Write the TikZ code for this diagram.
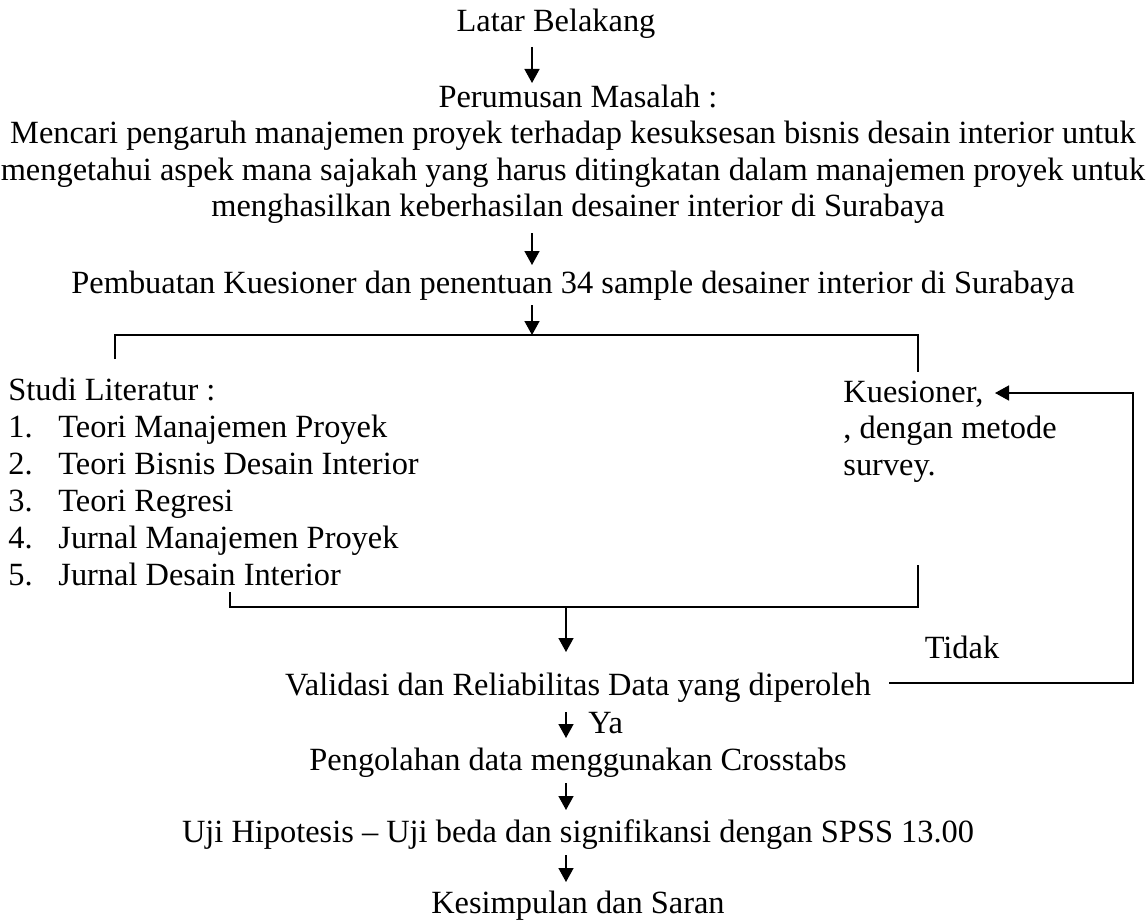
\documentclass[tikz,border=0pt]{standalone}
\usepackage{fontspec}
\setmainfont{Liberation Serif}
\usetikzlibrary{arrows.meta}
\tikzset{
  t/.style={inner sep=0pt, anchor=base, font=\fontsize{16.2}{18}\selectfont},
  tw/.style={t, anchor=base west},
  ln/.style={line width=0.75pt},
  arr/.style={line width=0.75pt, -{Triangle[length=7pt,width=7.5pt]}},
}
\begin{document}
\begin{tikzpicture}[x=0.5pt,y=-0.5pt]
\useasboundingbox (0,0) rectangle (1146,920);
% main column
\node[t] (latar) at (556,32) {Latar Belakang};
\node[t] (p0) at (578,108) {Perumusan Masalah :};
\node[t] (p1) at (573,144) {Mencari pengaruh manajemen proyek terhadap kesuksesan bisnis desain interior untuk};
\node[t] (p2) at (573,180) {mengetahui aspek mana sajakah yang harus ditingkatan dalam manajemen proyek untuk};
\node[t] (p3) at (578,216) {menghasilkan keberhasilan desainer interior di Surabaya};
\node[t] (buat) at (573,293) {Pembuatan Kuesioner dan penentuan 34 sample desainer interior di Surabaya};
% left list
\node[tw] (studi) at (8,400) {Studi Literatur :};
\node[tw] (n1) at (8,437) {1.};
\node[tw] (n2) at (8,474) {2.};
\node[tw] (n3) at (8,511) {3.};
\node[tw] (n4) at (8,548) {4.};
\node[tw] (n5) at (8,585) {5.};
\node[tw] (s1) at (58,437) {Teori Manajemen Proyek};
\node[tw] (s2) at (58,474) {Teori Bisnis Desain Interior};
\node[tw] (s3) at (58,511) {Teori Regresi};
\node[tw] (s4) at (58,548) {Jurnal Manajemen Proyek};
\node[tw] (s5) at (58,585) {Jurnal Desain Interior};
% right column
\node[tw] (k1) at (843,402) {Kuesioner,};
\node[tw] (k2) at (843,438) {, dengan metode};
\node[tw] (k3) at (843,475) {survey.};
% lower column
\node[t] (valid) at (578,695) {Validasi dan Reliabilitas Data yang diperoleh};
\node[t] (tidak) at (962,658) {Tidak};
\node[tw] (ya) at (588,733) {Ya};
\node[t] (olah) at (578,770) {Pengolahan data menggunakan Crosstabs};
\node[t] (uji) at (578,842) {Uji Hipotesis -- Uji beda dan signifikansi dengan SPSS 13.00};
\node[t] (simp) at (578,913) {Kesimpulan dan Saran};
% connector points
\coordinate (a1s) at (532,47);   \coordinate (a1e) at (532,83);
\coordinate (a2s) at (532,233);  \coordinate (a2e) at (532,265);
\coordinate (a3s) at (532,305);  \coordinate (tm) at (532,335);
\coordinate (tl) at (115,335);   \coordinate (tr) at (918,335);
\coordinate (tlb) at (115,359);  \coordinate (trb) at (918,372);
\coordinate (bl) at (230,607);   \coordinate (br) at (918,607);
\coordinate (blt) at (230,592);  \coordinate (brt) at (918,565);
\coordinate (bm) at (566,607);   \coordinate (vt) at (566,652);
\coordinate (fs) at (889,683);   \coordinate (fr) at (1133,683);
\coordinate (kt) at (995,393);
\coordinate (y1s) at (566,712);  \coordinate (y1e) at (566,738);
\coordinate (y2s) at (566,783);  \coordinate (y2e) at (566,810);
\coordinate (y3s) at (566,855);  \coordinate (y3e) at (566,882);
% connectors
\draw[arr] (a1s) -- (a1e);
\draw[arr] (a2s) -- (a2e);
\draw[arr] (a3s) -- (tm);
\draw[ln] (tlb) -- (tl) -- (tr) -- (trb);
\draw[ln] (blt) -- (bl) -- (br) -- (brt);
\draw[arr] (bm) -- (vt);
\draw[arr] (fs) -- (fr) |- (kt);
\draw[arr] (y1s) -- (y1e);
\draw[arr] (y2s) -- (y2e);
\draw[arr] (y3s) -- (y3e);
\end{tikzpicture}
\end{document}
